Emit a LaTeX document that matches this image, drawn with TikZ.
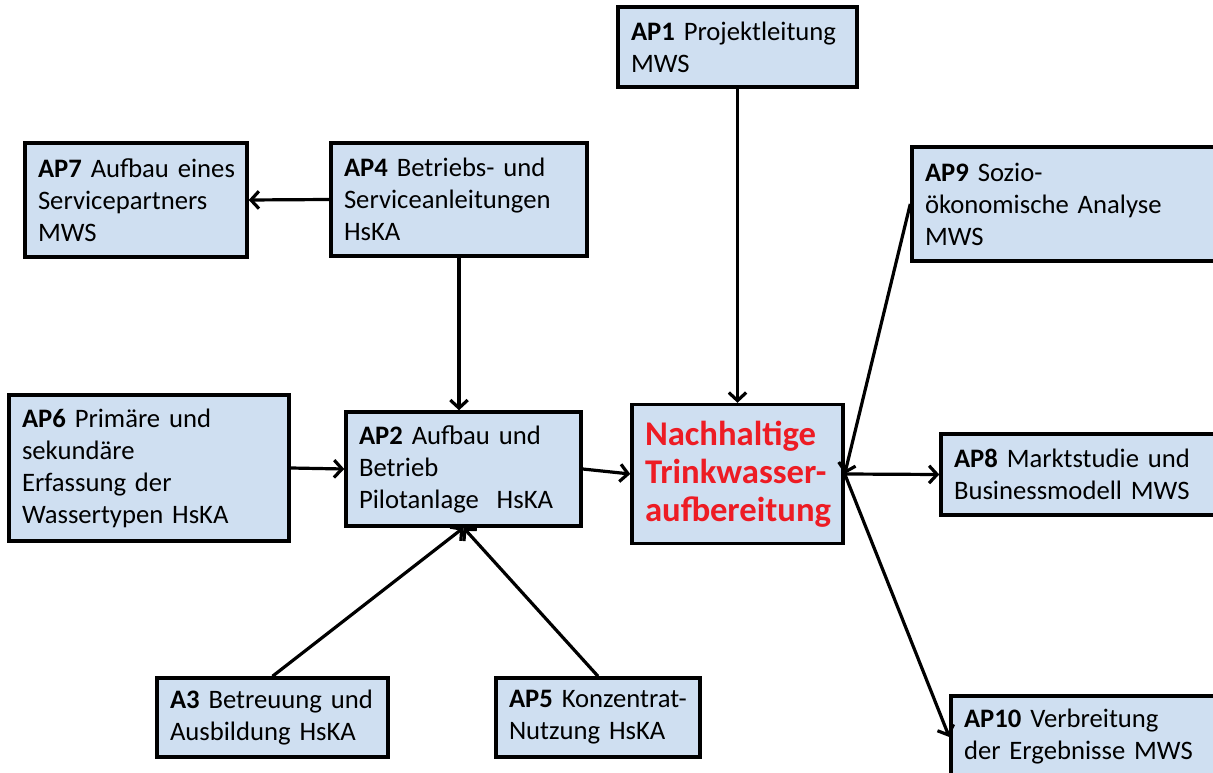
\documentclass[tikz,border=0pt]{standalone}
\usepackage{fontspec}
\setmainfont{Carlito}
\definecolor{apblue}{RGB}{207,223,241}
\definecolor{apred}{RGB}{237,28,36}
\usetikzlibrary{arrows.meta,positioning,calc}

\begin{document}
\begin{tikzpicture}[x=0.75pt, y=-0.75pt,
    apbox/.style={draw=black, line width=2.6pt, fill=apblue,
                  inner xsep=9.75pt, inner ysep=4pt, align=left,
                  font=\fontsize{20pt}{24pt}\selectfont},
    apline/.style={line width=2.4pt, -{Straight Barb[length=6pt,width=13pt]}}
  ]
    \useasboundingbox (0,0) rectangle (1213,773);

    % Box: AP1 Projektleitung
    \node[apbox, minimum width=179.25pt, minimum height=60pt, text width=159.75pt] (ap1) at (737.5,47) {%
      \textbf{AP1} Projektleitung\\
      MWS};

    % Box: AP7 Servicepartner
    \node[apbox, minimum width=166.5pt, minimum height=85.5pt, text width=147pt] (ap7) at (136,200) {%
      \mbox{\textbf{AP7} Aufbau eines}\\
      Servicepartners\\
      MWS};

    % Box: AP4 Anleitungen
    \node[apbox, minimum width=192pt, minimum height=84.75pt, text width=172.5pt] (ap4) at (459,199.5) {%
      \textbf{AP4} Betriebs- und\\
      Serviceanleitungen\\
      HsKA};

    % Box: AP9 Analyse (cut at the right edge)
    \node[apbox, minimum width=229.5pt, minimum height=85.5pt, text width=210pt] (ap9) at (1065,204) {%
      \textbf{AP9} Sozio-\\
      ökonomische Analyse\\
      MWS};

    % Box: AP6 Wassertypen
    \node[apbox, minimum width=210pt, minimum height=109.5pt, text width=190.5pt] (ap6) at (149,468) {%
      \textbf{AP6} Primäre und\\
      sekundäre\\
      Erfassung der\\
      Wassertypen HsKA};

    % Box: AP2 Pilotanlage
    \node[apbox, minimum width=176.25pt, minimum height=85.5pt, text width=156.75pt] (ap2) at (463.5,469) {%
      \textbf{AP2} Aufbau und\\
      Betrieb\\
      Pilotanlage~~HsKA};

    % Box: Ziel in the middle
    \node[apbox, minimum width=158.25pt, minimum height=104.25pt, text width=138.75pt,
          font=\fontsize{26pt}{28.5pt}\selectfont\bfseries, text=apred] (ziel) at (737.5,474) {%
      Nachhaltige\\
      Trinkwasser-\\
      aufbereitung};

    % Box: AP8 Marktstudie
    \node[apbox, minimum width=207.75pt, minimum height=60.75pt, text width=188.25pt] (ap8) at (1079.5,474.5) {%
      \mbox{\textbf{AP8} Marktstudie und}\\
      Businessmodell MWS};

    % Box: A3 Ausbildung
    \node[apbox, minimum width=173.25pt, minimum height=59.25pt, text width=153.75pt] (a3) at (272.5,717.5) {%
      \mbox{\textbf{A3} Betreuung und}\\
      Ausbildung HsKA};

    % Box: AP5 Konzentrat
    \node[apbox, minimum width=153pt, minimum height=59.25pt, text width=133.5pt] (ap5) at (598,717.5) {%
      \mbox{\textbf{AP5} Konzentrat-}\\
      Nutzung HsKA};

    % Box: AP10 Verbreitung
    \node[apbox, minimum width=200.25pt, minimum height=61.5pt, text width=180.75pt] (ap10) at (1084.5,737) {%
      \textbf{AP10} Verbreitung\\
      der Ergebnisse MWS};

    % arrows
    \draw[apline] (ap4.west) -- (ap7.east);
    \draw[apline] (ap4.south) -- (ap4.south |- ap2.north);
    \draw[apline] (ap1.south) -- (ziel.north);
    \draw[apline] (ap6.east) -- (ap2.west);
    \draw[apline] (ap2.east) -- (ziel.west);
    \draw[apline] (a3.north) -- (ap2.south);
    \draw[apline] (ap5.north) -- (ap2.south);
    \draw[apline] (ap9.west) -- (ziel.east);
    \draw[apline] (ziel.east) -- (ap8.west);
    \draw[apline] (ziel.east) -- (ap10.west);
  \end{tikzpicture}
\end{document}
